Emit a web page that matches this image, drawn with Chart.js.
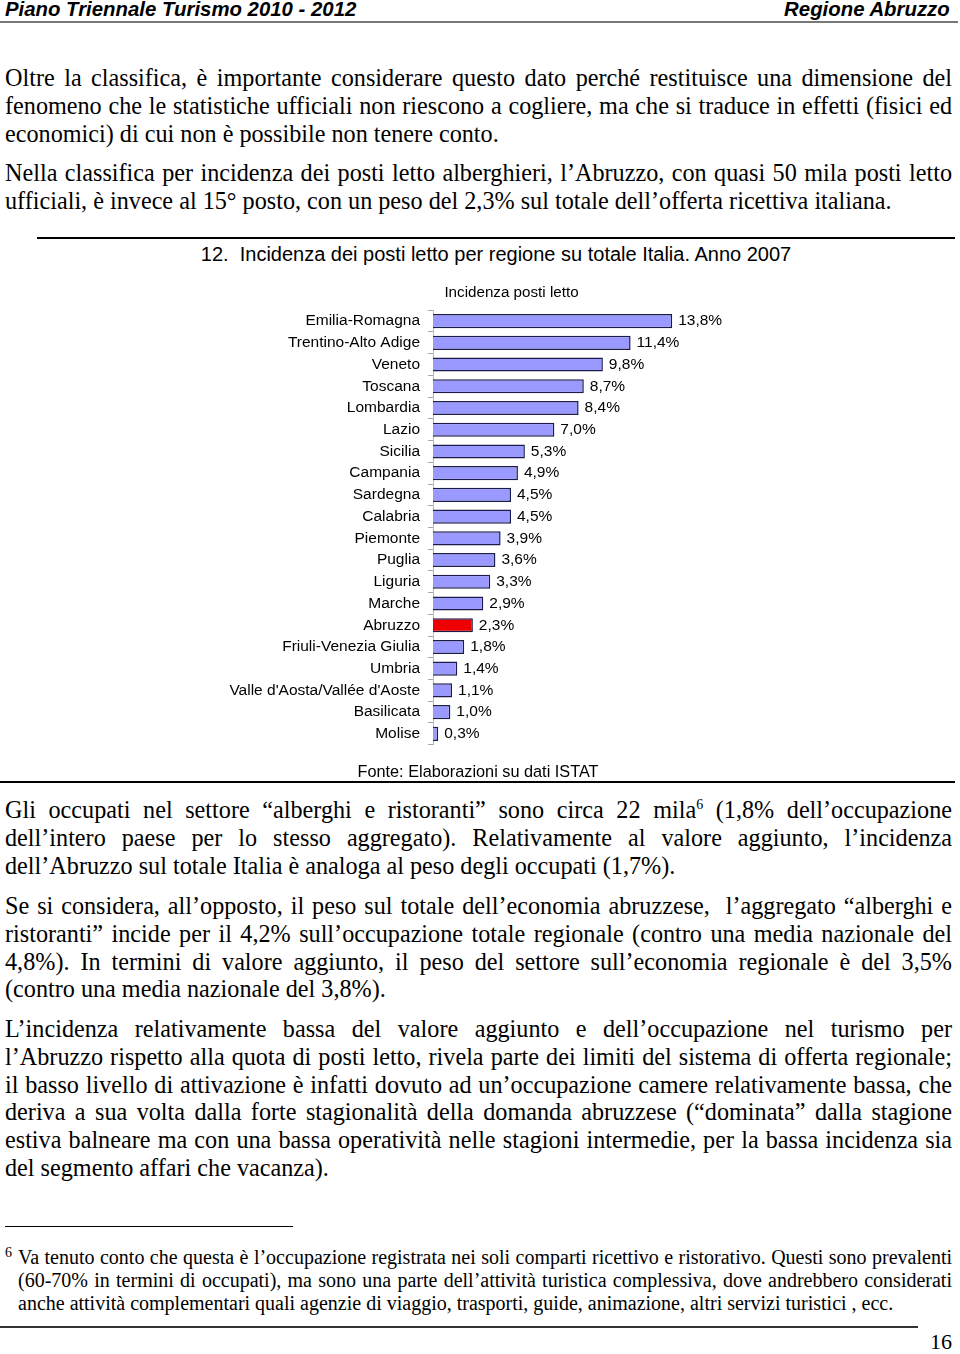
<!DOCTYPE html>
<html lang="it">
  <head>
    <meta charset="UTF-8" />
    <title>Piano Triennale Turismo 2010 - 2012</title>
    <script src="https://cdn.jsdelivr.net/npm/chart.js"></script>
    <style>
      body {
        margin: 0;
        background: #fff;
        width: 960px;
        height: 1354px;
        position: relative;
        overflow: hidden;
        color: #000;
      }
      .head {
        position: absolute;
        top: -3px;
        font-family: "Liberation Sans", Arial, sans-serif;
        font-weight: bold;
        font-style: italic;
        font-size: 21px;
        line-height: 24px;
        transform: scaleX(0.97);
      }
      .rule {
        position: absolute;
        background: #000;
      }
      .p {
        position: absolute;
        left: 5px;
        width: 947px;
        font-family: "Liberation Serif", "Times New Roman", serif;
        font-size: 24.2px;
        line-height: 27.8px;
      }
      .p span {
        display: block;
        text-align: justify;
        text-align-last: justify;
      }
      .p span.last {
        text-align-last: left;
      }
      .p sup {
        font-size: 14px;
        line-height: 0;
      }
      .sans {
        position: absolute;
        font-family: "Liberation Sans", Arial, sans-serif;
        text-align: center;
      }
      #chartBox {
        position: absolute;
        left: 200px;
        top: 282px;
        width: 623px;
        height: 480px;
      }
      .note {
        position: absolute;
        left: 5px;
        width: 947px;
        font-family: "Liberation Serif", "Times New Roman", serif;
        font-size: 20px;
        line-height: 23px;
      }
      .note span {
        display: block;
        position: relative;
        padding-left: 13px;
        text-align: justify;
        text-align-last: justify;
      }
      .note span.last {
        text-align-last: left;
      }
      .note sup {
        position: absolute;
        left: 0;
        top: -5px;
        font-size: 14px;
      }
    </style>
  </head>
  <body>
    <!-- page header -->
    <div class="head" style="left: 5px; transform-origin: left">Piano Triennale Turismo 2010 - 2012</div>
    <div class="head" style="right: 10px; transform-origin: right">Regione Abruzzo</div>
    <div class="rule" style="left: 0; top: 21px; width: 958px; height: 2px; background: #777"></div>

    <div class="p" style="top: 64px">
      <span>Oltre la classifica, è importante considerare questo dato perché restituisce una dimensione del</span>
      <span>fenomeno che le statistiche ufficiali non riescono a cogliere, ma che si traduce in effetti (fisici ed</span>
      <span class="last">economici) di cui non è possibile non tenere conto.</span>
    </div>
    <div class="p" style="top: 159px">
      <span>Nella classifica per incidenza dei posti letto alberghieri, l’Abruzzo, con quasi 50 mila posti letto</span>
      <span class="last">ufficiali, è invece al 15° posto, con un peso del 2,3% sul totale dell’offerta ricettiva italiana.</span>
    </div>

    <!-- chart block -->
    <div class="rule" style="left: 37px; top: 237px; width: 918px; height: 1.5px"></div>
    <div class="sans" style="left: 0; width: 992px; top: 242px; font-size: 20px; line-height: 24px">12.&nbsp; Incidenza dei posti letto per regione su totale Italia. Anno 2007</div>
    <div id="chartBox"><canvas id="myChart"></canvas></div>
    <div class="sans" style="left: 0; width: 956px; top: 761px; font-size: 16.3px; line-height: 20px">Fonte: Elaborazioni su dati ISTAT</div>
    <div class="rule" style="left: 0; top: 781px; width: 955px; height: 1.5px"></div>

    <div class="p" style="top: 796px">
      <span>Gli occupati nel settore “alberghi e ristoranti” sono circa 22 mila<sup>6</sup> (1,8% dell’occupazione</span>
      <span>dell’intero paese per lo stesso aggregato). Relativamente al valore aggiunto, l’incidenza</span>
      <span class="last">dell’Abruzzo sul totale Italia è analoga al peso degli occupati (1,7%).</span>
    </div>
    <div class="p" style="top: 892px">
      <span>Se si considera, all’opposto, il peso sul totale dell’economia abruzzese,&nbsp; l’aggregato “alberghi e</span>
      <span>ristoranti” incide per il 4,2% sull’occupazione totale regionale (contro una media nazionale del</span>
      <span>4,8%). In termini di valore aggiunto, il peso del settore sull’economia regionale è del 3,5%</span>
      <span class="last">(contro una media nazionale del 3,8%).</span>
    </div>
    <div class="p" style="top: 1015px">
      <span>L’incidenza relativamente bassa del valore aggiunto e dell’occupazione nel turismo per</span>
      <span>l’Abruzzo rispetto alla quota di posti letto, rivela parte dei limiti del sistema di offerta regionale;</span>
      <span>il basso livello di attivazione è infatti dovuto ad un’occupazione camere relativamente bassa, che</span>
      <span>deriva a sua volta dalla forte stagionalità della domanda abruzzese (“dominata” dalla stagione</span>
      <span>estiva balneare ma con una bassa operatività nelle stagioni intermedie, per la bassa incidenza sia</span>
      <span class="last">del segmento affari che vacanza).</span>
    </div>

    <!-- footnote -->
    <div class="rule" style="left: 5px; top: 1226px; width: 288px; height: 1px"></div>
    <div class="note" style="top: 1246px">
      <span><sup>6</sup>Va tenuto conto che questa è l’occupazione registrata nei soli comparti ricettivo e ristorativo. Questi sono prevalenti</span>
      <span>(60-70% in termini di occupati), ma sono una parte dell’attività turistica complessiva, dove andrebbero considerati</span>
      <span class="last">anche attività complementari quali agenzie di viaggio, trasporti, guide, animazione, altri servizi turistici , ecc.</span>
    </div>
    <div class="rule" style="left: 0; top: 1326px; width: 918px; height: 1.5px; background: #333"></div>
    <div class="p" style="left: 900px; width: 52px; top: 1328px; font-size: 22px; text-align: right">16</div>

    <script>
      // regions, sorted as in the source table
      const regions = [
        "Emilia-Romagna",
        "Trentino-Alto Adige",
        "Veneto",
        "Toscana",
        "Lombardia",
        "Lazio",
        "Sicilia",
        "Campania",
        "Sardegna",
        "Calabria",
        "Piemonte",
        "Puglia",
        "Liguria",
        "Marche",
        "Abruzzo",
        "Friuli-Venezia Giulia",
        "Umbria",
        "Valle d'Aosta/Vallée d'Aoste",
        "Basilicata",
        "Molise",
      ];

      // share of national bed places, %
      const bedShare = [
        13.8, 11.4, 9.8, 8.7, 8.4, 7.0, 5.3, 4.9, 4.5, 4.5, 3.9, 3.6, 3.3, 2.9,
        2.3, 1.8, 1.4, 1.1, 1.0, 0.3,
      ];

      const highlight = "Abruzzo";

      // write the value next to each bar
      const valueLabels = {
        id: "valueLabels",
        afterDatasetsDraw(chart) {
          const ctx = chart.ctx;
          const meta = chart.getDatasetMeta(0);
          ctx.save();
          ctx.font = "15.5px 'Liberation Sans', Arial, sans-serif";
          ctx.fillStyle = "#000";
          ctx.textAlign = "left";
          ctx.textBaseline = "middle";
          meta.data.forEach(function (bar, i) {
            const txt = bedShare[i].toFixed(1).replace(".", ",") + "%";
            ctx.fillText(txt, bar.x + 6, bar.y);
          });
          ctx.restore();
        },
      };

      const ctx = document.getElementById("myChart").getContext("2d");
      const myChart = new Chart(ctx, {
        type: "bar",
        data: {
          labels: regions,
          datasets: [
            {
              data: bedShare,
              backgroundColor: (c) =>
                regions[c.dataIndex] === highlight ? "#ee0000" : "#9999ff",
              borderColor: "#1c1c4a",
              borderWidth: 1.5,
              categoryPercentage: 1,
              barPercentage: 0.65,
            },
          ],
        },
        options: {
          indexAxis: "y",
          responsive: true,
          maintainAspectRatio: false,
          animation: false,
          layout: { padding: { left: 0, right: 0, top: 0, bottom: 0 } },
          plugins: {
            legend: { display: false },
            tooltip: { enabled: false },
            title: {
              display: true,
              text: "Incidenza posti letto",
              color: "#000",
              font: { family: "'Liberation Sans', Arial, sans-serif", size: 15.2, weight: "normal" },
              padding: { top: 2, bottom: 8 },
            },
          },
          scales: {
            x: { display: false, min: 0, max: 22.5 },
            y: {
              afterFit: function (scale) {
                scale.width = 233;
              },
              grid: {
                drawOnChartArea: false,
                drawTicks: true,
                tickLength: 5,
                color: "#aaa",
              },
              border: { display: true, color: "#bbb" },
              ticks: {
                padding: 8,
                color: "#000",
                autoSkip: false,
                font: { family: "'Liberation Sans', Arial, sans-serif", size: 15.5 },
              },
            },
          },
        },
        plugins: [valueLabels],
      });
    </script>
  </body>
</html>
